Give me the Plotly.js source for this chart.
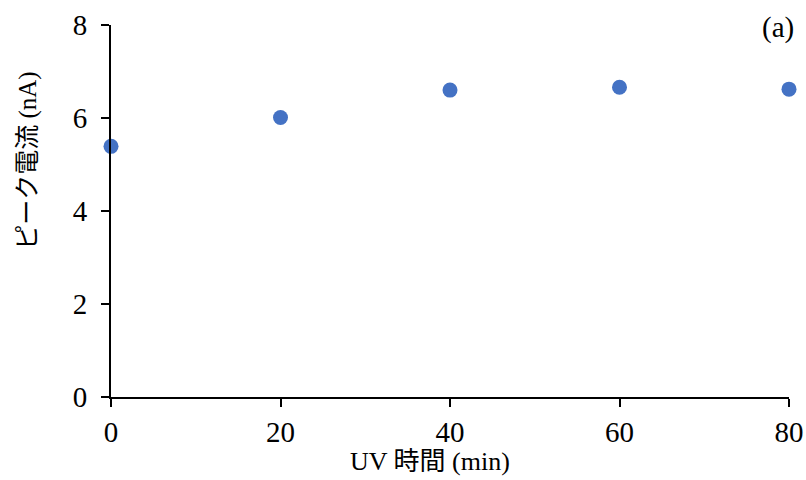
<!DOCTYPE html>
<html>
<head>
<meta charset="utf-8">
<script src="https://cdn.plot.ly/plotly-3.0.1.min.js"></script>
<style>html,body{margin:0;padding:0;background:#fff;}#chart{width:806px;height:480px;}</style>
</head>
<body>
<div id="chart"></div>
<script>
const uvTime = [0, 20, 40, 60, 80];
const peakCurrent = [5.39, 6.01, 6.60, 6.66, 6.62];
const xTicks = [0, 20, 40, 60, 80];
const yTicks = [0, 2, 4, 6, 8];
const xTitle = "UV 時間 (min)";
const yTitle = "ピーク電流 (nA)";
const panelLabel = "(a)";

const fontFam = 'Liberation Serif, Noto Sans CJK JP, serif';

Plotly.newPlot('chart', [{
  x: uvTime, y: peakCurrent, type: 'scatter', mode: 'markers',
  marker: {size: 15, color: '#4472C4'},
  cliponaxis: false, hoverinfo: 'none'
}], {
  width: 806, height: 480,
  margin: {l: 110.6, r: 17, t: 24.5, b: 83},
  paper_bgcolor: '#fff', plot_bgcolor: '#fff',
  showlegend: false,
  font: {family: fontFam, color: '#000', size: 29},
  xaxis: {
    range: [0, 80], tickvals: xTicks, ticktext: xTicks.map(String),
    showgrid: false, zeroline: false, showline: true, linecolor: '#000', linewidth: 2,
    ticks: 'outside', ticklen: 8, tickwidth: 2, tickcolor: '#000',
    tickfont: {family: fontFam, size: 29}
  },
  yaxis: {
    range: [0, 8], tickvals: yTicks, ticktext: yTicks.map(String),
    showgrid: false, zeroline: false, showline: true, linecolor: '#000', linewidth: 2,
    ticks: 'outside', ticklen: 8, tickwidth: 2, tickcolor: '#000',
    ticklabelstandoff: 8,
    tickfont: {family: fontFam, size: 29}
  },
  annotations: [{
    text: panelLabel, xref: 'paper', yref: 'paper', x: 1.0, y: 1.0,
    xanchor: 'right', yanchor: 'middle', showarrow: false, xshift: 7, yshift: -2,
    font: {family: fontFam, size: 29}
  }, {
    text: xTitle, xref: 'paper', yref: 'paper', x: 0.471, y: -0.1745,
    xanchor: 'center', yanchor: 'middle', showarrow: false,
    font: {family: fontFam, size: 26}
  }, {
    text: yTitle, xref: 'paper', yref: 'paper', x: -0.1218, y: 0.636,
    xanchor: 'center', yanchor: 'middle', showarrow: false, textangle: -90,
    font: {family: fontFam, size: 25}
  }]
}, {staticPlot: true});
</script>
</body>
</html>
